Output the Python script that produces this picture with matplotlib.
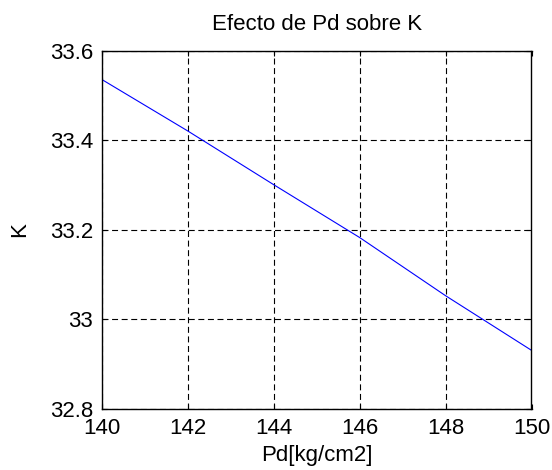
import matplotlib
matplotlib.use("Agg")
import matplotlib.pyplot as plt

pd_vals = [140, 142, 144, 146, 148, 150]
k_vals = [33.535, 33.420, 33.300, 33.182, 33.052, 32.930]
x_ticks = [140, 142, 144, 146, 148, 150]
y_ticks = [32.8, 33.0, 33.2, 33.4, 33.6]
y_tick_labels = ["32.8", "33", "33.2", "33.4", "33.6"]

plt.rcParams['font.family'] = ['Liberation Sans', 'DejaVu Sans']
plt.rcParams['lines.scale_dashes'] = False
fig = plt.figure(figsize=(5.52, 4.70), dpi=100)
ax = fig.add_axes([102 / 552, 1 - 408.5 / 470, 429.5 / 552, 358 / 470])
ax.plot(pd_vals, k_vals, color=(0, 0, 1), lw=0.8)
ax.set_xlim(140, 150)
ax.set_ylim(32.8, 33.6)
ax.set_xticks(x_ticks)
ax.set_yticks(y_ticks)
ax.set_yticklabels(y_tick_labels)
ax.grid(True, color='black', linestyle=(0, (4.3, 2.6)), linewidth=0.8)
ax.tick_params(direction='in', top=True, right=True, length=3.6, width=0.8,
               labelsize=16, colors='black')
ax.tick_params(axis='x', pad=6.5)
ax.tick_params(axis='y', pad=6.5)
for s in ax.spines.values():
    s.set_linewidth(1.0)
ax.set_xlabel('Pd[kg/cm2]', fontsize=16, labelpad=4.5)
ax.set_ylabel('K', fontsize=16, labelpad=14)
ax.set_title('Efecto de Pd sobre K', fontsize=16, pad=15)
fig.savefig('out.png', dpi=100)
